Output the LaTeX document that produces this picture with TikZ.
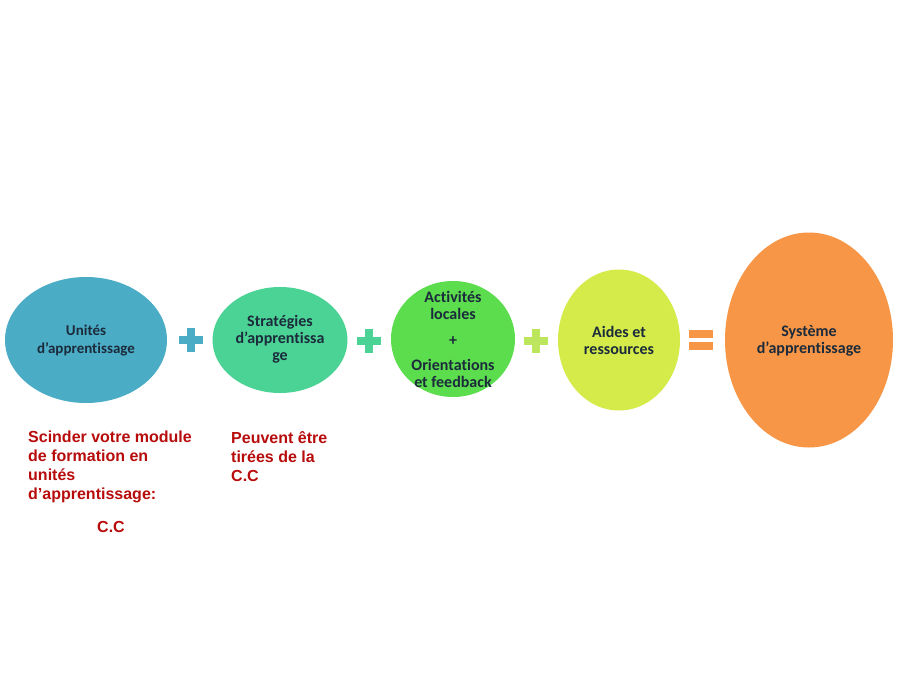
\documentclass[tikz,border=0pt]{standalone}
\usepackage{fontspec}
\setmainfont{Carlito}[Ligatures=NoCommon]
\newfontfamily\arialfont{Liberation Sans}
\usetikzlibrary{shapes.geometric}
\definecolor{cA}{HTML}{4BACC6}
\definecolor{cB}{HTML}{4BD396}
\definecolor{cC}{HTML}{5CDD4E}
\definecolor{cD}{HTML}{D4EB4A}
\definecolor{cE}{HTML}{F79646}
\definecolor{cP3}{HTML}{BDE65E}
\definecolor{navy}{HTML}{1B2B3B}
\definecolor{redtxt}{HTML}{B80C0C}
\tikzset{
  blob/.style={ellipse, inner sep=0pt, draw=none},
  lbl/.style={align=center, text=navy, font=\bfseries\fontsize{16}{17}\selectfont, inner sep=0pt},
  note/.style={align=left, text=redtxt, anchor=north west, inner sep=0pt,
    font=\arialfont\bfseries\fontsize{16}{19}\selectfont},
}
\newcommand{\plussign}[3]{% x, y, colour
  \fill[#3] (#1-12,#2-4) rectangle (#1+12,#2+4);
  \fill[#3] (#1-4,#2-12) rectangle (#1+4,#2+12);
}
\begin{document}
\begin{tikzpicture}[x=1pt,y=-1pt]
\useasboundingbox (0,0) rectangle (897,680);
\fill[white] (0,0) rectangle (897,680);
% ellipses
\node[blob, fill=cA, minimum width=162, minimum height=126] (e1) at (86,340) {};
\node[blob, fill=cB, minimum width=135, minimum height=106] (e2) at (280,340) {};
\node[blob, fill=cC, minimum width=124, minimum height=116] (e3) at (453,339) {};
\node[blob, fill=cD, minimum width=122, minimum height=141] (e4) at (619,340) {};
\node[blob, fill=cE, minimum width=168, minimum height=215] (e5) at (809,340) {};
% labels
\node[lbl, font=\bfseries\fontsize{15}{18}\selectfont] (t1) at (86,341) {Unités\\d’apprentissage};
\node[lbl] (t2) at (280,339) {Stratégies\\d’apprentissa\\ge};
\node[lbl] (t3) at (453,339) {Activités\\locales\\[9pt]+\\[8pt]Orientations\\et feedback};
\node[lbl] (t4) at (619,340) {Aides et\\ressources};
\node[lbl] (t5) at (809,341) {Système\\d’apprentissage};
% operators
\plussign{191}{340}{cA}
\plussign{369}{341}{cB}
\plussign{536}{341}{cP3}
\fill[cE] (689,330) rectangle (713,338);
\fill[cE] (689,342) rectangle (713,350);
% notes
\node[note] (n1) at (28,431) {Scinder votre module\\de formation en\\unités\\d’apprentissage:};
\node[note] (n2) at (97,521) {C.C};
\node[note] (n3) at (231,431) {Peuvent être\\tirées de la\\C.C};
\end{tikzpicture}
\end{document}
